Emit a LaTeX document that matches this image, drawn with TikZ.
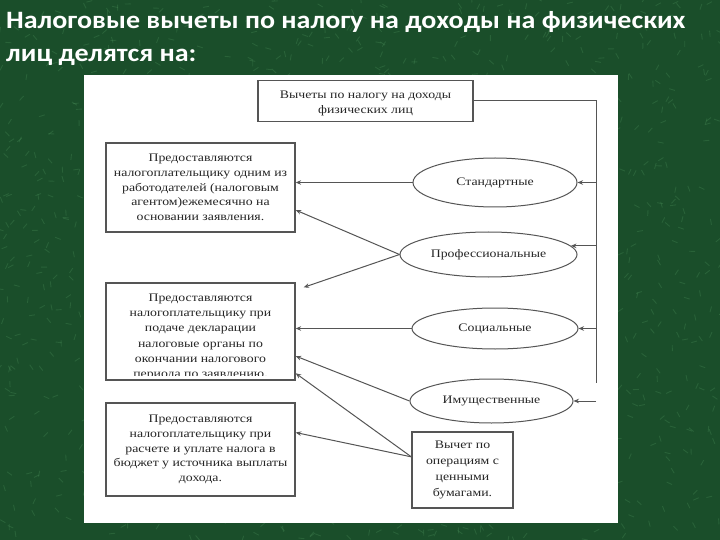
\documentclass[tikz,border=0pt]{standalone}
\usepackage{fontspec}
\setmainfont{Liberation Serif}[FakeStretch=1.2]
\newfontfamily\titlefont{Carlito}[FakeStretch=1.12]
\usetikzlibrary{shapes.geometric,arrows.meta,calc}
\definecolor{bggreen}{RGB}{26,78,42}
\definecolor{bglight}{RGB}{80,150,95}
\definecolor{lncol}{RGB}{85,85,85}
\begin{document}
\begin{tikzpicture}[x=1bp,y=-1bp,
  box/.style={draw=lncol,line width=1.3bp,fill=white,inner sep=0pt,align=center,
    font=\fontsize{11.5bp}{14.7bp}\selectfont,text=black!85},
  oval/.style={ellipse,draw=lncol,line width=1bp,inner sep=0pt,
    font=\fontsize{11.5bp}{14.7bp}\selectfont,text=black!85},
  txt/.style={align=center,font=\fontsize{11.5bp}{15.3bp}\selectfont,text=black!85,inner sep=0pt},
  arr/.style={draw=lncol,line width=1bp,-{Stealth[length=5.5bp,width=4.5bp]}},
  ln/.style={draw=lncol,line width=1bp},
  title/.style={anchor=base west,inner sep=0pt,text=white,
    font=\titlefont\bfseries\fontsize{25bp}{30bp}\selectfont}]
% background
\fill[bggreen] (0,0) rectangle (720,540);
\useasboundingbox (0,0) rectangle (720,540);
\pgfmathsetseed{7}
\foreach \i in {1,...,1400}{
  \pgfmathsetmacro{\px}{rnd*720}
  \pgfmathsetmacro{\py}{rnd*540}
  \pgfmathsetmacro{\pa}{rnd*360}
  \draw[bglight,opacity=0.28,line width=0.9bp] (\px,\py) -- ++(\pa:6);
}
% white panel
\fill[white] (84,75) rectangle (618,523);
% title
\node[title] (t1) at (6,29) {Налоговые вычеты по налогу на доходы на физических};
\node[title] (t2) at (6,62) {лиц делятся на:};
% top box
\node[box,minimum width=215bp,minimum height=41bp] (top) at (365.5,101)
  {\rule{0pt}{12bp}Вычеты по налогу на доходы\\физических лиц};
% left boxes
\node[box,minimum width=189bp,minimum height=89bp] (b1) at (200.5,187.5)
  {Предоставляются\\налогоплательщику одним из\\работодателей (налоговым\\агентом)ежемесячно на\\основании заявления.};
\node[box,minimum width=189bp,minimum height=97bp] (b2) at (200.5,331.5) {};
\begin{scope}
  \clip (106,283) rectangle (295,375.5);
  \node[txt,anchor=north] (b2t) at (200.5,293.4)
    {Предоставляются\\налогоплательщику при\\подаче декларации\\налоговые органы по\\окончании налогового\\периода по заявлению.};
\end{scope}
\draw[lncol,line width=1.3bp] (b2.south west) rectangle (b2.north east);
\node[box,minimum width=189bp,minimum height=93bp] (b3) at (200.5,449.5)
  {Предоставляются\\налогоплательщику при\\расчете и уплате налога в\\бюджет у источника выплаты\\дохода.};
\node[box,minimum width=101bp,minimum height=76bp,font=\fontsize{11.5bp}{16.3bp}\selectfont] (vb) at (462.5,470)
  {Вычет по\\операциям с\\ценными\\бумагами.};
% ellipses
\node[oval,minimum width=164bp,minimum height=49bp] (e1) at (495,182.5) {Стандартные};
\node[oval,minimum width=177bp,minimum height=45bp] (e2) at (488.5,254.5) {Профессиональные};
\node[oval,minimum width=166bp,minimum height=41bp] (e3) at (495,328.5) {Социальные};
\node[oval,minimum width=163bp,minimum height=44bp] (e4) at (491.5,401) {Имущественные};
% right trunk
\coordinate (rbot) at (596,383);
\draw[ln] (top.east) -| (rbot);
\draw[arr] (e1.east -| rbot) -- (e1.east);
\draw[arr] (e2.6 -| rbot) -- (e2.6);
\draw[arr] (e3.east -| rbot) -- (e3.east);
\draw[arr] (e4.east -| rbot) -- (e4.east);
% to left boxes
\coordinate (vbL) at ($(vb.north west)!0.33!(vb.south west)$);
\draw[arr] (e1.west) -- (e1.west -| b1.east);
\draw[arr] (e2.west) -- ($(b1.east)!0.5!(b1.south east)$);
\draw[arr] (e2.west) -- ($(b2.north east)+(8,5)$);
\draw[arr] (e3.west) -- (e3.west -| b2.east);
\draw[arr] (e4.west) -- ($(b2.east)!0.5!(b2.south east)$);
\draw[arr] (vbL) -- ($(b2.east)!0.85!(b2.south east)$);
\draw[arr] (vbL) -- ($(b3.east)!0.36!(b3.north east)$);
\end{tikzpicture}
\end{document}
